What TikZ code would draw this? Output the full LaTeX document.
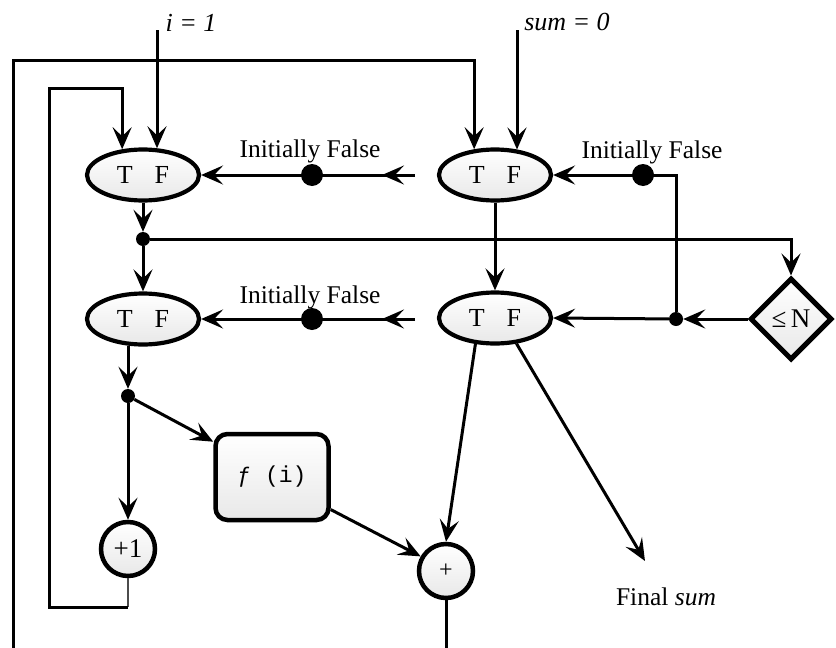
\documentclass[tikz,border=0pt]{standalone}
\usepackage{fontspec}
\setmainfont{Liberation Serif}[ItalicFont={Liberation Serif Italic},BoldFont={Liberation Serif Bold}]
\setmonofont{Liberation Mono}
\usetikzlibrary{arrows.meta,shapes.geometric,decorations.markings}
\begin{document}
\begin{tikzpicture}[x=1pt,y=-1pt,
  >={Stealth[length=22pt,width=19pt,inset=9pt]},
  ln/.style={line width=3pt},
  arr/.style={ln,->},
  midarr/.style={postaction={decorate},decoration={markings,
      mark=at position 33pt with {\arrow{Stealth[length=22pt,width=19pt,inset=9pt]}}}},
  shade/.style={top color=white,bottom color=black!9},
  tf/.style={ellipse,draw,line width=4.2pt,minimum width=112pt,minimum height=51pt,inner sep=0pt,shade,font=\fontsize{26}{30}\selectfont},
  rnd/.style={circle,draw,line width=4.5pt,minimum size=54pt,inner sep=0pt,shade},
  dot/.style={circle,fill,inner sep=0pt,minimum size=14pt},
  token/.style={circle,fill,inner sep=0pt,minimum size=22pt},
  lbl/.style={inner sep=0pt,font=\fontsize{25.5}{30}\selectfont}]
\useasboundingbox (0,0) rectangle (836,648);
\clip (0,0) rectangle (836,648);

% nodes
\node[tf] (A1) at (143,175) {T\hspace{22pt}F};
\node[tf] (B1) at (495,175) {T\hspace{22pt}F};
\node[tf] (A2) at (143,319) {T\hspace{22pt}F};
\node[tf] (B2) at (495,318) {T\hspace{22pt}F};
\node[diamond,draw,line width=5pt,minimum width=82pt,minimum height=82pt,inner sep=0pt,shade,font=\fontsize{27}{30}\selectfont] (cmp) at (791,319) {≤\,N};
\node[rnd,font=\fontsize{27}{30}\selectfont] (p1) at (128,549) {+1};
\node[rnd,font=\fontsize{24}{28}\selectfont] (plus) at (446,571) {+};
\node[rectangle,rounded corners=12pt,draw,line width=4.5pt,minimum width=113pt,minimum height=86pt,shade,font=\fontsize{23}{26}\selectfont\ttfamily] (fbox) at (272,477) {ƒ (i)};

\node[dot] (d1) at (143,239) {};
\node[dot] (d2) at (128,396) {};
\node[dot] (d4) at (676,319) {};
\node[token] (t1) at (312,175) {};
\node[token] (t2) at (643,175) {};
\node[token] (t3) at (312,319) {};

\coordinate (iin) at (157,30);
\coordinate (sin) at (517,30);
\coordinate (s1) at (415,175);
\coordinate (s2) at (415,319);
\coordinate (fin) at (645,561);
\coordinate (lp) at (128,607);

% labels
\node[lbl,font=\fontsize{26}{30}\selectfont\itshape] (il) at (191,23) {i = 1};
\node[lbl,font=\fontsize{26}{30}\selectfont\itshape] (sl) at (567,22) {sum = 0};
\node[lbl] (f1) at (310,151) {Initially False};
\node[lbl] (f2) at (652,152) {Initially False};
\node[lbl] (f3) at (310,297) {Initially False};
\node[lbl] (fs) at (666,597) {Final \textit{sum}};

% connectors
\draw[arr] (iin) -- (iin |- A1.62);
\draw[arr] (sin) -- (sin |- B1.49);
\draw[line width=2.5pt,black!70] (p1.south) -- (lp);
\draw[arr] (lp) -| (49,88) -| (A1.129);
\draw[arr] (plus.south) -- (plus.south |- 0,660) -| (13,60) -| (B1.129);
\draw[arr] (A1.south) -- (d1);
\draw[arr] (d1) -- (A2.north);
\draw[arr] (d1) -| (cmp.north);
\draw[arr] (B1.south) -- (B2.north);
\draw[arr] (cmp.west) -- (d4);
\draw[arr] (d4) -- (B2.east);
\draw[arr] (d4) |- (B1.east);
\draw[arr,midarr] (s1) -- (A1.east);
\draw[arr,midarr] (s2) -- (A2.east);
\draw[arr] (A2.240 -| d2) -- (d2);
\draw[arr] (d2) -- (p1.north);
\draw[arr] (d2) -- (fbox.149);
\draw[arr] (fbox.331) -- (plus.150);
\draw[arr] (B2.233) -- (plus.north);
\draw[arr] (B2.310) -- (fin);
\end{tikzpicture}
\end{document}
